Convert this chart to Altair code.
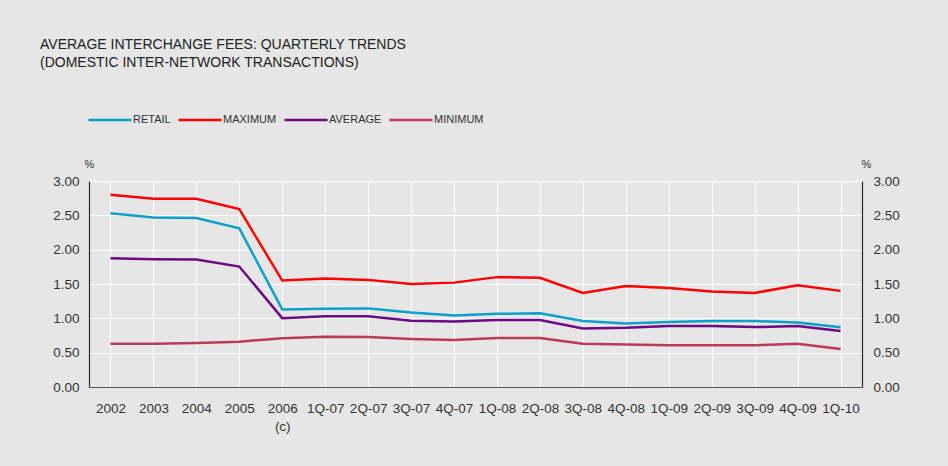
import altair as alt
import pandas as pd

categories = ["2002", "2003", "2004", "2005", "2006", "1Q-07", "2Q-07", "3Q-07", "4Q-07",
              "1Q-08", "2Q-08", "3Q-08", "4Q-08", "1Q-09", "2Q-09", "3Q-09", "4Q-09", "1Q-10"]
retail = [2.53, 2.47, 2.46, 2.31, 1.13, 1.14, 1.145, 1.085, 1.04, 1.065, 1.075, 0.96, 0.925,
          0.945, 0.96, 0.96, 0.94, 0.87]
maximum = [2.80, 2.74, 2.74, 2.59, 1.55, 1.58, 1.56, 1.50, 1.52, 1.60, 1.59, 1.37, 1.47,
           1.44, 1.39, 1.37, 1.48, 1.40]
average = [1.875, 1.86, 1.855, 1.754, 1.003, 1.03, 1.03, 0.965, 0.955, 0.974, 0.974, 0.853,
           0.862, 0.887, 0.89, 0.872, 0.887, 0.814]
minimum = [0.63, 0.63, 0.64, 0.66, 0.71, 0.73, 0.727, 0.70, 0.683, 0.712, 0.712, 0.63, 0.62,
           0.607, 0.607, 0.607, 0.63, 0.552]
series_names = ["RETAIL", "MAXIMUM", "AVERAGE", "MINIMUM"]
series_colors = ["#0aa0c8", "#ff0000", "#6b0a83", "#b83a5e"]
y_ticks = [0, 0.5, 1.0, 1.5, 2.0, 2.5, 3.0]

rows = []
for name, vals in zip(series_names, [retail, maximum, average, minimum]):
    for i, (c, v) in enumerate(zip(categories, vals)):
        rows.append({"period": c, "order": i, "series": name, "value": v})
df = pd.DataFrame(rows)

FONT = "Liberation Sans"
TXT = "#333333"
AXIS_LINE = "#2a2a2a"

x_enc = alt.X(
    "period:N", sort=categories, scale=alt.Scale(paddingInner=0, paddingOuter=0),
    axis=alt.Axis(
        title=None, labelAngle=0, ticks=False, grid=True, gridColor="white", gridWidth=1,
        bandPosition=0, domainColor="#555555", domainWidth=1.2, labelPadding=14,
        labelFontSize=13.5, labelFont=FONT, labelColor=TXT, labelLineHeight=18,
        labelExpr="datum.value == '2006' ? ['2006', '(c)'] : datum.value",
    ),
)

lines = alt.Chart(df).mark_line(strokeWidth=2.5).encode(
    x=x_enc,
    y=alt.Y(
        "value:Q", scale=alt.Scale(domain=[0, 3], nice=False),
        axis=alt.Axis(
            title="%", titleAngle=0, titleX=0, titleY=-17, titleAlign="center",
            titleBaseline="middle", titleFontSize=11, titleFont=FONT, titleColor=TXT,
            titleFontWeight="normal", values=y_ticks, format=".2f", ticks=False,
            grid=True, gridColor="white", gridWidth=1, domainColor=AXIS_LINE,
            domainWidth=1.2, labelPadding=10, labelFontSize=13.5, labelFont=FONT,
            labelColor=TXT,
        ),
    ),
    color=alt.Color(
        "series:N", scale=alt.Scale(domain=series_names, range=series_colors),
        sort=series_names,
        legend=alt.Legend(
            title=None, orient="none", direction="horizontal", legendX=-2, legendY=-84,
            symbolType="stroke", symbolSize=1849, symbolStrokeWidth=2.5,
            labelFont=FONT, labelFontSize=11, labelColor=TXT, labelOffset=0,
            columnPadding=2,
        ),
    ),
    detail="series:N",
    order="order:Q",
)

right = alt.Chart(df).mark_line(opacity=0).encode(
    x=alt.X("period:N", sort=categories),
    y=alt.Y(
        "value:Q", scale=alt.Scale(domain=[0, 3], nice=False),
        axis=alt.Axis(
            orient="right", title="%", titleAngle=0, titleX=4, titleY=-17,
            titleAlign="center", titleBaseline="middle", titleFontSize=11,
            titleFont=FONT, titleColor=TXT, titleFontWeight="normal",
            values=y_ticks, format=".2f", ticks=False, grid=False,
            domainColor=AXIS_LINE, domainWidth=1.2, labelPadding=11,
            labelFontSize=13.5, labelFont=FONT, labelColor=TXT,
        ),
    ),
    detail="series:N",
)

chart = alt.layer(lines, right).resolve_scale(y="independent").properties(
    width=773,
    height=206,
    autosize="none",
    padding={"left": 89, "top": 181, "right": 86, "bottom": 79},
    background="#e6e6e6",
    title=alt.TitleParams(
        text=["AVERAGE INTERCHANGE FEES: QUARTERLY TRENDS",
              "(DOMESTIC INTER-NETWORK TRANSACTIONS)"],
        anchor="start", frame="group", orient="top", fontSize=14, font=FONT,
        fontWeight="normal", color="#222222", dx=-49, dy=-27, lineHeight=18, offset=0,
    ),
).configure_view(stroke=None)

chart.save("out.html", embed_options={"renderer": "svg", "actions": False})
